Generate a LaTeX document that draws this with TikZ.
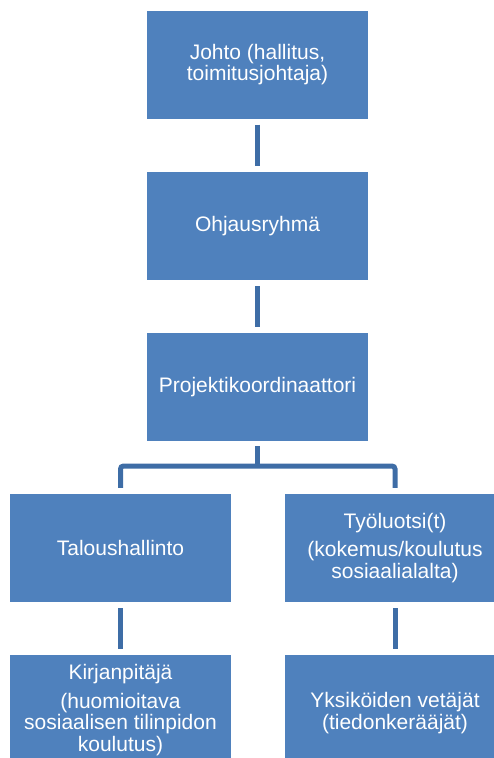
\documentclass[tikz,border=0pt]{standalone}
\usepackage{fontspec}
\setmainfont{Liberation Sans}
\definecolor{boxblue}{HTML}{4F81BD}
\definecolor{lineblue}{HTML}{3E6DA6}
\begin{document}
\begin{tikzpicture}[x=1pt,y=-1pt,
  orgbox/.style={draw=none,fill=boxblue,rectangle,minimum width=221pt,minimum height=108pt,inner sep=0pt,text=white,align=center,font=\fontsize{21}{21.5}\selectfont},
  conn/.style={draw=lineblue,line width=5pt},
  gap/.style={shorten >=6pt,shorten <=6pt}]
\useasboundingbox (0,0) rectangle (493,758);
\node[orgbox] (b1) at (257.5,64.5) {Johto (hallitus,\\toimitusjohtaja)};
\node[orgbox] (b2) at (257.5,226) {Ohjausryhmä};
\node[orgbox] (b3) at (257.5,387) {Projektikoordinaattori};
\node[orgbox] (b4) at (120.5,548) {Taloushallinto};
\node[orgbox] (b5) at (395,548) {Työluotsi(t)\\[7pt](kokemus/koulutus\\sosiaalialalta)};
\node[orgbox] (b6) at (120.5,709) {};
\node[orgbox] (b7) at (395,709) {};
\node[text=white,align=center,font=\fontsize{21}{21.5}\selectfont,inner sep=0pt] (t6) at (120.5,710) {Kirjanpitäjä\\[7pt](huomioitava\\sosiaalisen tilinpidon\\koulutus)};
\node[text=white,align=center,font=\fontsize{21}{21.5}\selectfont,inner sep=0pt] (t7) at (395,713) {Yksiköiden vetäjät\\(tiedonkerääjät)};
\draw[conn,gap] (b1.south) -- (b2.north);
\draw[conn,gap] (b2.south) -- (b3.north);
\coordinate (j) at (257.5,466);
\draw[conn,shorten <=5pt] (b3.south) -- (j);
\draw[conn,rounded corners=3pt] ([yshift=6pt]b4.north) |- (j) -| ([yshift=6pt]b5.north);
\draw[conn,gap] (b4.south) -- (b6.north);
\draw[conn,gap] (b5.south) -- (b7.north);
\end{tikzpicture}
\end{document}
